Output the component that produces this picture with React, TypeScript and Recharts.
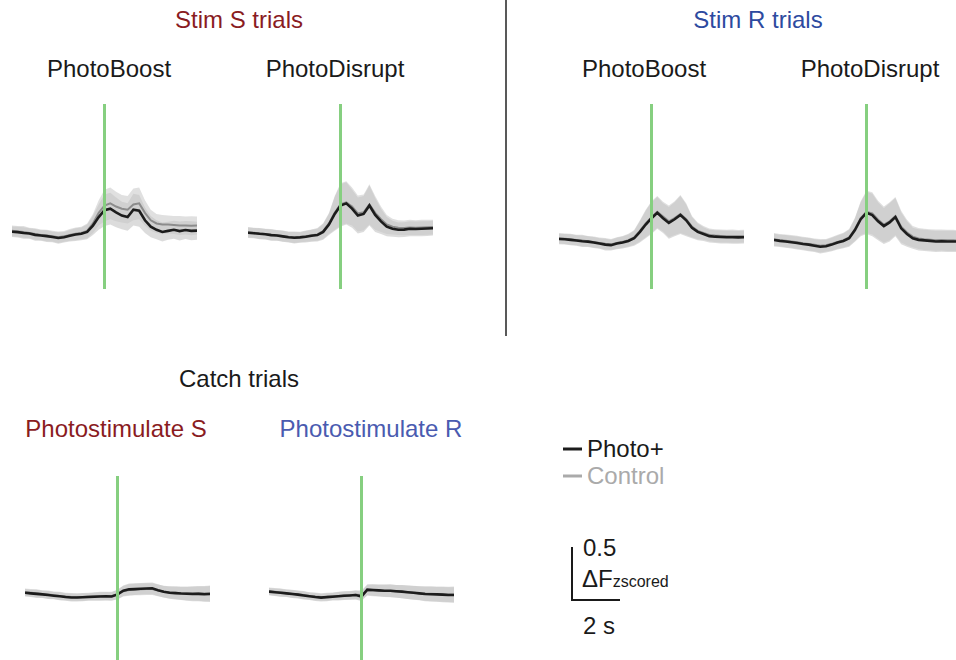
import { Area, ComposedChart, Line, ReferenceLine, XAxis, YAxis } from "recharts";

// time relative to photostimulation onset (s)
const TIME = [
  -4, -3.75, -3.5, -3.25, -3, -2.75, -2.5, -2.25, -2, -1.75, -1.5, -1.25, -1, -0.75, -0.5, -0.25,
  0, 0.25, 0.5, 0.75, 1, 1.25, 1.5, 1.75, 2, 2.25, 2.5, 2.75, 3, 3.25, 3.5, 3.75, 4,
];

// Stim S trials — PhotoBoost
const sBoostPhoto = [
  0.042, 0.038, 0.03, 0.025, 0.012, 0.006, 0.0, -0.008, -0.018, -0.01, 0.004, 0.015, 0.022, 0.04, 0.1, 0.18,
  0.245, 0.26, 0.225, 0.195, 0.18, 0.25, 0.24, 0.15, 0.09, 0.06, 0.04, 0.05, 0.06, 0.048, 0.058, 0.05, 0.052,
];
const sBoostControl = [
  0.05, 0.045, 0.04, 0.03, 0.02, 0.012, 0.006, 0.0, -0.01, -0.002, 0.012, 0.022, 0.03, 0.05, 0.12, 0.22,
  0.29, 0.31, 0.28, 0.26, 0.25, 0.3, 0.31, 0.22, 0.15, 0.12, 0.11, 0.11, 0.105, 0.1, 0.1, 0.098, 0.1,
];
const sBoostSem = [
  0.05, 0.05, 0.055, 0.05, 0.055, 0.05, 0.055, 0.05, 0.055, 0.05, 0.055, 0.06, 0.06, 0.07, 0.09, 0.12,
  0.15, 0.15, 0.14, 0.13, 0.13, 0.15, 0.15, 0.12, 0.1, 0.09, 0.09, 0.085, 0.085, 0.09, 0.085, 0.09, 0.085,
];

// Stim S trials — PhotoDisrupt
const sDisruptPhoto = [
  0.032, 0.028, 0.022, 0.018, 0.01, 0.006, -0.002, -0.01, -0.015, -0.012, -0.005, 0.004, 0.01, 0.04, 0.11, 0.21,
  0.29, 0.31, 0.26, 0.195, 0.21, 0.29, 0.2, 0.14, 0.09, 0.07, 0.06, 0.062, 0.07, 0.068, 0.07, 0.072, 0.075,
];
const sDisruptControl = [
  0.036, 0.032, 0.026, 0.02, 0.014, 0.008, 0.002, -0.006, -0.01, -0.008, 0.0, 0.008, 0.016, 0.048, 0.12, 0.22,
  0.3, 0.32, 0.28, 0.215, 0.225, 0.3, 0.22, 0.16, 0.11, 0.09, 0.08, 0.078, 0.082, 0.08, 0.082, 0.084, 0.086,
];
const sDisruptSem = [
  0.05, 0.048, 0.052, 0.05, 0.054, 0.05, 0.052, 0.05, 0.055, 0.05, 0.054, 0.056, 0.06, 0.075, 0.1, 0.16,
  0.2, 0.2, 0.18, 0.17, 0.17, 0.19, 0.16, 0.12, 0.09, 0.075, 0.07, 0.07, 0.072, 0.07, 0.072, 0.07, 0.07,
];

// Stim R trials — PhotoBoost
const rBoostPhoto = [
  -0.027, -0.03, -0.035, -0.042, -0.048, -0.052, -0.06, -0.07, -0.08, -0.085, -0.07, -0.06, -0.045, -0.02, 0.04, 0.11,
  0.17, 0.22, 0.17, 0.125, 0.16, 0.2, 0.15, 0.08, 0.04, 0.02, 0.0, -0.005, -0.008, -0.01, -0.01, -0.012, -0.01,
];
const rBoostControl = [
  -0.02, -0.025, -0.03, -0.036, -0.042, -0.048, -0.055, -0.064, -0.072, -0.078, -0.065, -0.054, -0.038, -0.012, 0.05, 0.12,
  0.18, 0.23, 0.185, 0.14, 0.17, 0.21, 0.16, 0.09, 0.05, 0.03, 0.012, 0.005, 0.002, 0.0, 0.0, -0.002, 0.0,
];
const rBoostSem = [
  0.05, 0.05, 0.052, 0.05, 0.054, 0.05, 0.052, 0.05, 0.055, 0.05, 0.054, 0.056, 0.06, 0.07, 0.1, 0.13,
  0.15, 0.15, 0.14, 0.15, 0.16, 0.18, 0.15, 0.1, 0.08, 0.065, 0.06, 0.06, 0.062, 0.06, 0.062, 0.06, 0.06,
];

// Stim R trials — PhotoDisrupt
const rDisruptPhoto = [
  -0.037, -0.045, -0.05, -0.058, -0.065, -0.074, -0.08, -0.09, -0.1, -0.095, -0.08, -0.06, -0.045, -0.02, 0.058, 0.16,
  0.22, 0.2, 0.14, 0.095, 0.13, 0.18, 0.074, 0.02, -0.02, -0.035, -0.04, -0.045, -0.05, -0.048, -0.05, -0.05, -0.052,
];
const rDisruptControl = [
  -0.03, -0.038, -0.044, -0.05, -0.058, -0.066, -0.074, -0.082, -0.09, -0.086, -0.072, -0.054, -0.038, -0.012, 0.065, 0.17,
  0.23, 0.215, 0.155, 0.11, 0.14, 0.19, 0.09, 0.035, -0.005, -0.022, -0.03, -0.034, -0.038, -0.036, -0.04, -0.04, -0.042,
];
const rDisruptSem = [
  0.06, 0.058, 0.06, 0.06, 0.062, 0.06, 0.062, 0.06, 0.064, 0.06, 0.064, 0.066, 0.07, 0.08, 0.11, 0.16,
  0.2, 0.2, 0.18, 0.17, 0.18, 0.18, 0.15, 0.12, 0.1, 0.1, 0.1, 0.1, 0.1, 0.1, 0.1, 0.1, 0.1,
];

// Catch trials — photostimulate S
const catchSPhoto = [
  0.146, 0.14, 0.135, 0.13, 0.124, 0.118, 0.112, 0.105, 0.1, 0.1, 0.103, 0.106, 0.108, 0.11, 0.112, 0.11,
  0.13, 0.165, 0.178, 0.18, 0.183, 0.186, 0.187, 0.17, 0.155, 0.146, 0.142, 0.138, 0.136, 0.134, 0.135, 0.132, 0.134,
];
const catchSControl = [
  0.15, 0.145, 0.14, 0.134, 0.128, 0.122, 0.116, 0.11, 0.105, 0.104, 0.106, 0.11, 0.112, 0.114, 0.115, 0.114,
  0.13, 0.16, 0.172, 0.176, 0.178, 0.18, 0.18, 0.168, 0.156, 0.15, 0.146, 0.142, 0.14, 0.14, 0.14, 0.138, 0.14,
];
const catchSSem = [
  0.035, 0.035, 0.038, 0.035, 0.038, 0.035, 0.038, 0.035, 0.038, 0.036, 0.038, 0.036, 0.038, 0.04, 0.04, 0.04,
  0.045, 0.05, 0.055, 0.055, 0.055, 0.055, 0.055, 0.055, 0.055, 0.058, 0.06, 0.062, 0.065, 0.068, 0.07, 0.072, 0.075,
];

// Catch trials — photostimulate R
const catchRPhoto = [
  0.156, 0.15, 0.145, 0.14, 0.134, 0.128, 0.12, 0.112, 0.105, 0.1, 0.104, 0.108, 0.113, 0.117, 0.12, 0.124,
  0.11, 0.175, 0.172, 0.168, 0.165, 0.165, 0.16, 0.156, 0.15, 0.145, 0.14, 0.134, 0.132, 0.13, 0.128, 0.125, 0.124,
];
const catchRControl = [
  0.16, 0.154, 0.148, 0.143, 0.137, 0.131, 0.124, 0.116, 0.11, 0.106, 0.108, 0.112, 0.116, 0.12, 0.122, 0.126,
  0.125, 0.168, 0.168, 0.165, 0.163, 0.162, 0.158, 0.155, 0.15, 0.146, 0.142, 0.138, 0.136, 0.134, 0.132, 0.13, 0.13,
];
const catchRSem = [
  0.035, 0.036, 0.038, 0.035, 0.038, 0.036, 0.038, 0.035, 0.038, 0.036, 0.038, 0.036, 0.04, 0.04, 0.04, 0.042,
  0.045, 0.05, 0.055, 0.056, 0.058, 0.06, 0.06, 0.062, 0.064, 0.065, 0.066, 0.068, 0.07, 0.07, 0.072, 0.072, 0.074,
];

const DARK_RED = "#8a1c1f";
const BLUE = "#2d4a9f";
const BLUE_LIGHT = "#4a5bb0";
const GREEN = "#86cf80";
const FONT = "'Liberation Sans', Arial, Helvetica, sans-serif";

interface TraceProps {
  left: number;
  top: number;
  photo: number[];
  control: number[];
  sem: number[];
}

function Trace({ left, top, photo, control, sem }: TraceProps) {
  const data = TIME.map((t, i) => ({
    t,
    photo: photo[i],
    control: control[i],
    photoBand: [photo[i] - sem[i], photo[i] + sem[i]],
    controlBand: [control[i] - sem[i], control[i] + sem[i]],
  }));
  return (
    <div style={{ position: "absolute", left, top }}>
      <ComposedChart width={185} height={185} data={data} margin={{ top: 0, right: 0, bottom: 0, left: 0 }}>
        <XAxis dataKey="t" type="number" domain={[-4, 4]} hide />
        <YAxis type="number" domain={[-0.5, 1.25]} hide />
        <Area
          type="linear"
          dataKey="controlBand"
          stroke="none"
          fill="#d6d6d6"
          fillOpacity={0.75}
          isAnimationActive={false}
        />
        <Area
          type="linear"
          dataKey="photoBand"
          stroke="none"
          fill="#c4c4c4"
          fillOpacity={0.6}
          isAnimationActive={false}
        />
        <Line type="linear" dataKey="control" stroke="#8c8c8c" strokeWidth={2} dot={false} isAnimationActive={false} />
        <Line type="linear" dataKey="photo" stroke="#1c1c1c" strokeWidth={2.6} dot={false} isAnimationActive={false} />
        <ReferenceLine x={0} stroke={GREEN} strokeWidth={3} />
      </ComposedChart>
    </div>
  );
}

export default function App() {
  return (
    <div
      style={{
        position: "absolute",
        left: 0,
        top: 0,
        width: 956,
        height: 660,
        overflow: "hidden",
        background: "#fff",
        fontFamily: FONT,
      }}
    >
      <Trace left={12} top={104} photo={sBoostPhoto} control={sBoostControl} sem={sBoostSem} />
      <Trace left={248} top={104} photo={sDisruptPhoto} control={sDisruptControl} sem={sDisruptSem} />
      <Trace left={559} top={104} photo={rBoostPhoto} control={rBoostControl} sem={rBoostSem} />
      <Trace left={774} top={104} photo={rDisruptPhoto} control={rDisruptControl} sem={rDisruptSem} />
      <Trace left={25} top={476} photo={catchSPhoto} control={catchSControl} sem={catchSSem} />
      <Trace left={269} top={476} photo={catchRPhoto} control={catchRControl} sem={catchRSem} />

      <svg
        width={956}
        height={660}
        style={{ position: "absolute", left: 0, top: 0, pointerEvents: "none" }}
        fontFamily={FONT}
        fontSize={24}
      >
        <line x1={506} y1={0} x2={506} y2={336} stroke="#222" strokeWidth={1.5} />

        <text x={239} y={28} textAnchor="middle" fill={DARK_RED}>Stim S trials</text>
        <text x={758} y={28} textAnchor="middle" fill={BLUE}>Stim R trials</text>
        <text x={109} y={77} textAnchor="middle" fill="#1a1a1a">PhotoBoost</text>
        <text x={335} y={77} textAnchor="middle" fill="#1a1a1a">PhotoDisrupt</text>
        <text x={644} y={77} textAnchor="middle" fill="#1a1a1a">PhotoBoost</text>
        <text x={870} y={77} textAnchor="middle" fill="#1a1a1a">PhotoDisrupt</text>

        <text x={239} y={387} textAnchor="middle" fill="#1a1a1a">Catch trials</text>
        <text x={116} y={437} textAnchor="middle" fill={DARK_RED}>Photostimulate S</text>
        <text x={371} y={437} textAnchor="middle" fill={BLUE_LIGHT}>Photostimulate R</text>

        {/* legend */}
        <line x1={563} y1={449} x2={582} y2={449} stroke="#1c1c1c" strokeWidth={3} />
        <text x={587} y={457} fill="#1a1a1a">Photo+</text>
        <line x1={563} y1={476} x2={582} y2={476} stroke="#aaaaaa" strokeWidth={3} />
        <text x={587} y={484} fill="#aaaaaa">Control</text>

        {/* scale bar */}
        <polyline points="572,547 572,600 620,600" fill="none" stroke="#1a1a1a" strokeWidth={2} />
        <text x={583} y={556} fill="#1a1a1a">0.5</text>
        <text x={582} y={587} fill="#1a1a1a">
          ΔF<tspan fontSize={16}>zscored</tspan>
        </text>
        <text x={583} y={634} fill="#1a1a1a">2 s</text>
      </svg>
    </div>
  );
}
